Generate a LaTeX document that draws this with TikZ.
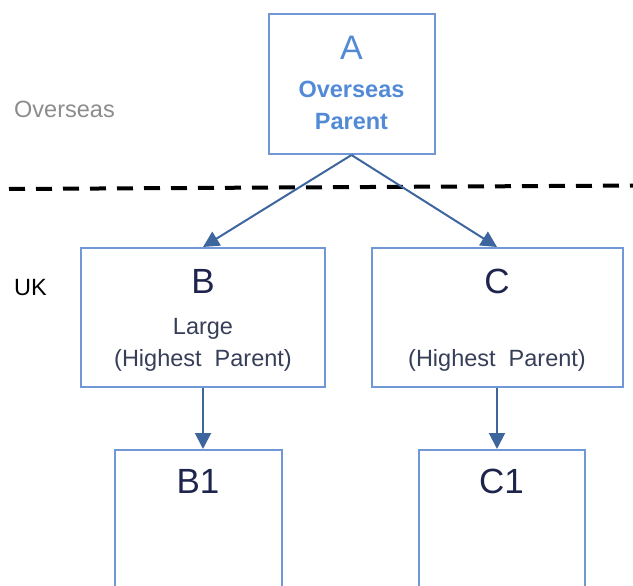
\documentclass[tikz,border=0pt]{standalone}
\usepackage{fontspec}
\setmainfont{Liberation Sans}
\usetikzlibrary{arrows.meta}
\definecolor{boxblue}{RGB}{112,152,214}
\definecolor{arrowblue}{RGB}{62,102,158}
\definecolor{navy}{RGB}{30,36,76}
\definecolor{subtext}{RGB}{55,62,88}
\definecolor{parentblue}{RGB}{82,138,214}
\definecolor{labelgray}{RGB}{140,140,140}
\tikzset{
  box/.style={draw=boxblue, line width=2pt, inner sep=0pt},
  big/.style={font=\fontsize{35}{40}\selectfont, text=navy, anchor=base, inner sep=0pt},
  sub/.style={font=\fontsize{23.5}{28}\selectfont, text=subtext, anchor=base, inner sep=0pt},
  conn/.style={draw=arrowblue, line width=2pt, -{Triangle[length=16pt,width=16pt]}},
  divider/.style={line width=4pt, dash pattern=on 16pt off 11pt},
}
\begin{document}
\begin{tikzpicture}[x=1pt,y=-1pt]
\useasboundingbox (0,0) rectangle (633,586);
\clip (0,0) rectangle (633,586);
% boxes
\node[box, minimum width=166pt, minimum height=140pt] (A) at (351.5,84) {};
\node[box, minimum width=244pt, minimum height=139pt] (B) at (203,317.5) {};
\node[box, minimum width=251pt, minimum height=139pt] (C) at (497,317.5) {};
\node[box, minimum width=167pt, minimum height=160pt, anchor=north] (B1) at (198,449) {};
\node[box, minimum width=166pt, minimum height=160pt, anchor=north] (C1) at (501.5,449) {};
% texts in A
\node[big, text=parentblue, font=\fontsize{34}{40}\selectfont] (At) at (351.5,60) {A};
\node[sub, text=parentblue, font=\fontsize{23.5}{28}\selectfont\bfseries] (At2) at (351.5,98) {Overseas};
\node[sub, text=parentblue, font=\fontsize{23.5}{28}\selectfont\bfseries] (At3) at (351.5,130) {Parent};
% texts in B
\node[big] (Bt) at (203,293) {B};
\node[sub] (Bt2) at (203,334) {Large};
\node[sub] (Bt3) at (203,366) {(Highest\ \ Parent)};
% texts in C
\node[big] (Ct) at (497,293) {C};
\node[sub] (Ct3) at (497,366) {(Highest\ \ Parent)};
% texts in B1, C1
\node[big] (B1t) at (198,493) {B1};
\node[big] (C1t) at (501.5,493) {C1};
% side labels
\node[sub, text=labelgray, anchor=base west] (ov) at (14,118) {Overseas};
\node[sub, text=black, anchor=base west] (uk) at (14,295) {UK};
% divider
\coordinate (dl) at (9,189);
\coordinate (dr) at (640,185.5);
\draw[divider] (dl) -- (dr);
% connectors
\draw[conn] (A.south) -- (B.north);
\draw[conn] (A.south) -- (C.north);
\draw[conn] (B.south) -- (B.south |- B1.north);
\draw[conn] (C.south) -- (C.south |- C1.north);
\end{tikzpicture}
\end{document}
